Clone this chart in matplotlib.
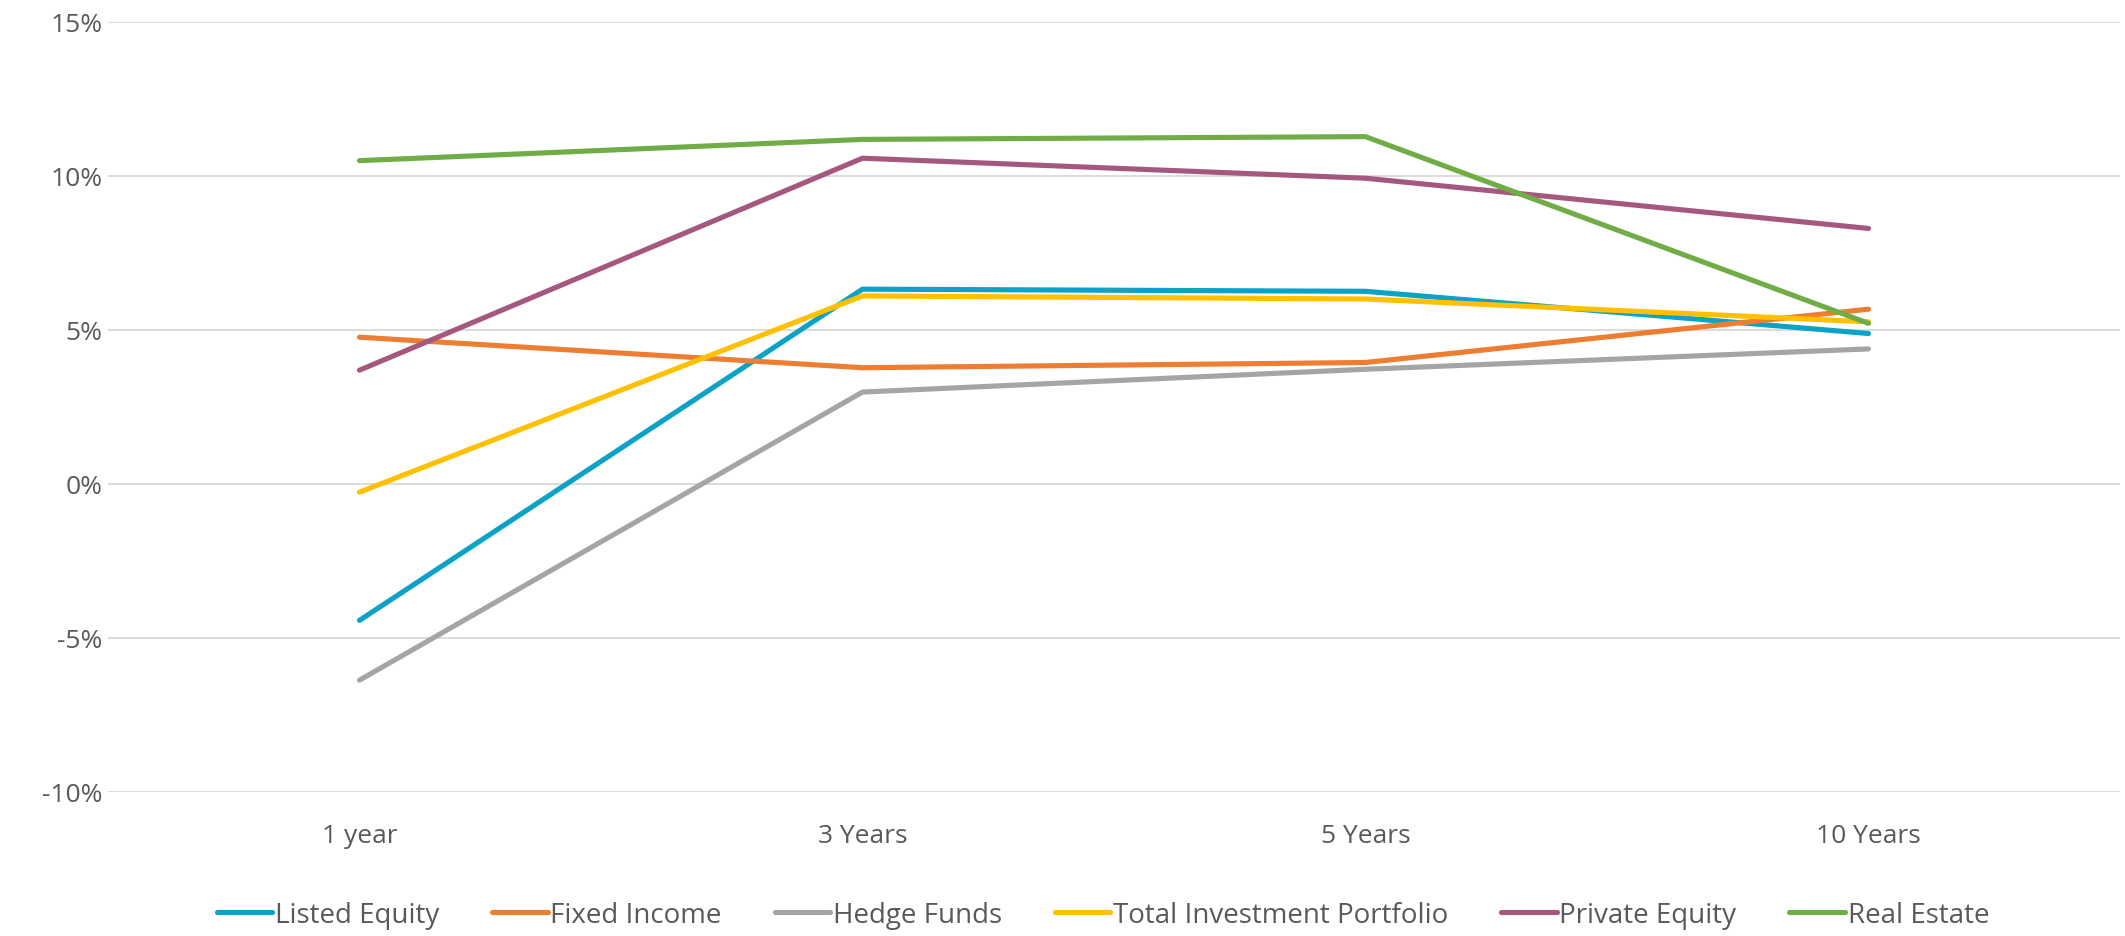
import matplotlib.pyplot as plt
from matplotlib.ticker import FuncFormatter

periods = ["1 year", "3 Years", "5 Years", "10 Years"]

listed_equity = [-4.43, 6.32, 6.25, 4.88]
fixed_income = [4.76, 3.77, 3.94, 5.67]
hedge_funds = [-6.37, 2.98, 3.72, 4.38]
total_portfolio = [-0.27, 6.10, 6.00, 5.26]
private_equity = [3.69, 10.57, 9.92, 8.29]
real_estate = [10.49, 11.18, 11.27, 5.21]

series = [
    ("Listed Equity", listed_equity, "#0AA2C7"),
    ("Fixed Income", fixed_income, "#ED7D31"),
    ("Hedge Funds", hedge_funds, "#A5A5A5"),
    ("Total Investment Portfolio", total_portfolio, "#FFC000"),
    ("Private Equity", private_equity, "#A5587E"),
    ("Real Estate", real_estate, "#70AD47"),
]

plt.rcParams['font.family'] = ['Open Sans', 'DejaVu Sans']
text_color = "#595959"

fig = plt.figure(figsize=(21.25, 9.37), dpi=100)
ax = fig.add_axes([108 / 2125, 1 - 793 / 937, (2120 - 108) / 2125, (793 - 22.7) / 937])

x = range(len(periods))
for name, vals, color in series:
    ax.plot(x, vals, color=color, lw=3.7, solid_capstyle='round',
            solid_joinstyle='round', label=name)

ax.set_xlim(-0.5, len(periods) - 0.5)
ax.set_ylim(-10, 15)
ax.set_yticks(range(-10, 16, 5))
ax.yaxis.set_major_formatter(FuncFormatter(lambda v, _: f"{v:.0f}%"))
ax.set_xticks(list(x))
ax.set_xticklabels(periods)

ax.grid(axis='y', color='#D9D9D9', lw=1.3)
ax.set_axisbelow(True)
for s in ax.spines.values():
    s.set_visible(False)
ax.tick_params(length=0, labelsize=19, colors=text_color)
ax.tick_params(axis='x', pad=22)
ax.tick_params(axis='y', pad=4)

leg = fig.legend(loc='center', bbox_to_anchor=(0.519, 1 - 916 / 937), ncol=6,
                 frameon=False, fontsize=20, handlelength=2.0,
                 handletextpad=0.1, columnspacing=1.9)
for t in leg.get_texts():
    t.set_color(text_color)

fig.savefig("out.png", dpi=100)
